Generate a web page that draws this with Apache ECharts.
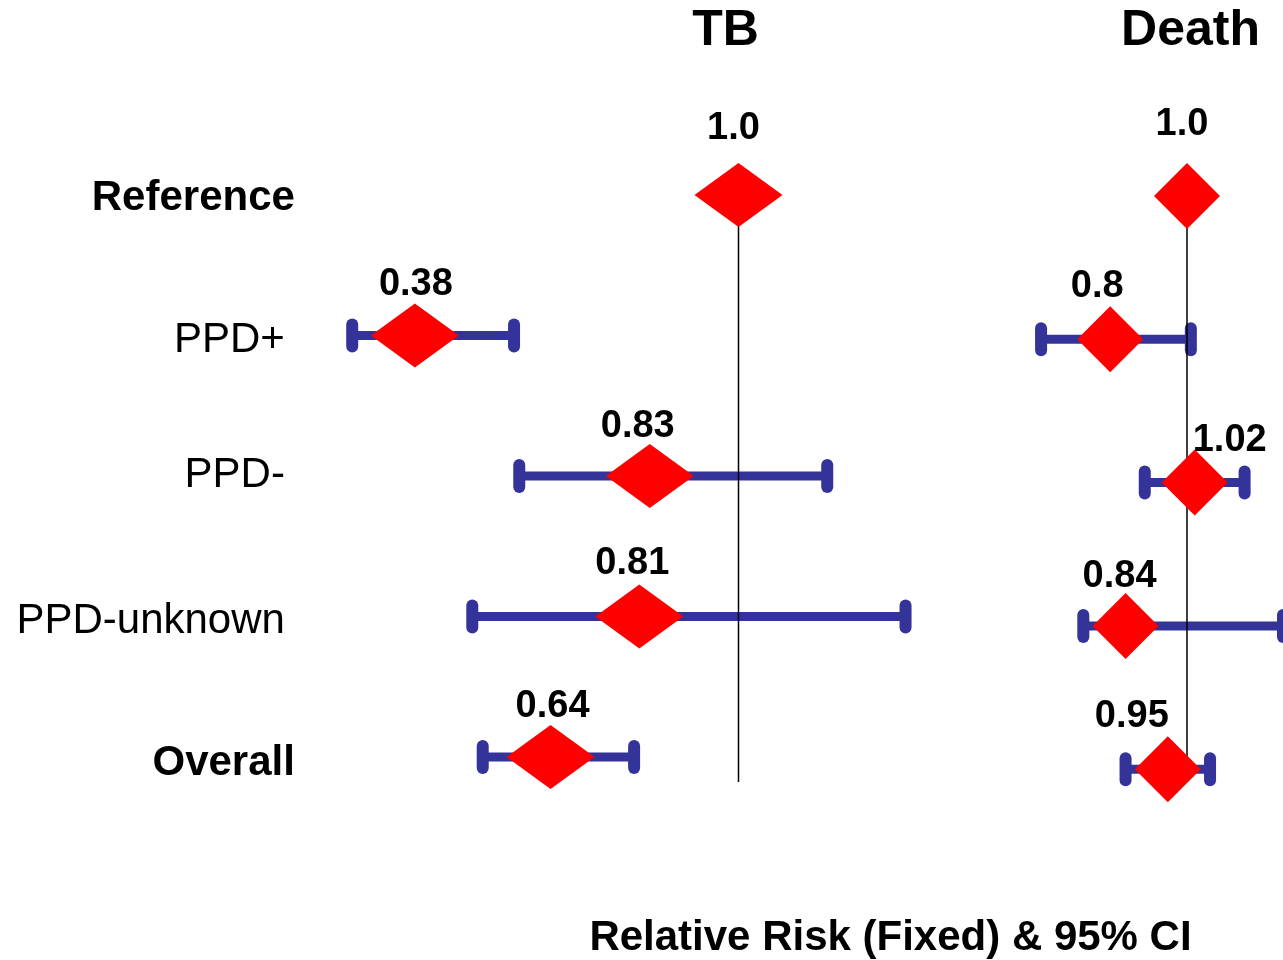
<!DOCTYPE html>
<html>
<head>
<meta charset="utf-8">
<script src="https://cdn.jsdelivr.net/npm/echarts@6/dist/echarts.min.js"></script>
<style>
html,body{margin:0;padding:0;background:#ffffff;}
#chart{width:1283px;height:960px;}
</style>
</head>
<body>
<div id="chart"></div>
<script>
// ---------------- data ----------------
const rows = ['Reference', 'PPD+', 'PPD-', 'PPD-unknown', 'Overall'];
const boldRows = ['Reference', 'Overall'];

const tbRR   = [1.0, 0.38, 0.83, 0.81, 0.64];
const tbLow  = [null, 0.26, 0.58, 0.49, 0.51];
const tbHigh = [null, 0.57, 1.17, 1.32, 0.80];

const deathRR   = [1.0, 0.8, 1.02, 0.84, 0.95];
const deathLow  = [null, 0.62, 0.89, 0.73, 0.84];
const deathHigh = [null, 1.01, 1.15, 1.25, 1.06];

const panelTitles = ['TB', 'Death'];
const xAxisTitle = 'Relative Risk (Fixed) & 95% CI';
const nullValue = 1.0;

// ---------------- layout / style ----------------
const FONT = '"Liberation Sans", Arial, Helvetica, sans-serif';
const RED = '#ff0000';
const BLUE = '#333399';
const rowLabelShift = [3, 5, -1, 5, 6];   // px, + = down

const panels = [
  {
    rr: tbRR, lo: tbLow, hi: tbHigh,
    grid: { left: 320.9, width: 626.4, top: 124.75, height: 702.5 },
    xmin: 0.2, xmax: 1.4,
    diamond: [88, 64],
    lineExtend: 25,
    labelNudge: [[-5, -15], [1, 0], [-12, 2], [-7, -2], [2, 1]],
    titlePos: [725.5, 31]
  },
  {
    rr: deathRR, lo: deathLow, hi: deathHigh,
    grid: { left: 995, width: 288.75, top: 124.35, height: 716.5 },
    xmin: 0.5, xmax: 1.25,
    diamond: [66, 66],
    lineExtend: 0,
    labelNudge: [[-5, -19], [-13, -1], [35, 10], [-6, 3], [-36, -1]],
    titlePos: [1190.5, 31]
  }
];

function fmt(v) {
  return Number.isInteger(v) ? v.toFixed(1) : String(v);
}

// rich styles for row labels
const richRows = {};
rows.forEach(function (r, i) {
  const bold = boldRows.indexOf(r) >= 0;
  const s = rowLabelShift[i];
  richRows['r' + i] = {
    fontFamily: FONT, fontSize: 42, fontWeight: bold ? 'bold' : 'normal',
    color: '#000', lineHeight: 46,
    padding: [s > 0 ? 2 * s : 0, bold ? 0 : 10, s < 0 ? -2 * s : 0, 0]
  };
});

const grids = [], xAxes = [], yAxes = [], series = [], graphics = [];

panels.forEach(function (p, pi) {
  grids.push(Object.assign({ containLabel: false }, p.grid));
  xAxes.push({
    type: 'value', gridIndex: pi, min: p.xmin, max: p.xmax, show: false
  });
  yAxes.push({
    type: 'category', gridIndex: pi, data: rows, inverse: true,
    axisLine: { show: false }, axisTick: { show: false }, splitLine: { show: false },
    axisLabel: pi === 0 ? {
      show: true,
      margin: 26,
      formatter: function (v) {
        return '{r' + rows.indexOf(v) + '|' + v + '}';
      },
      rich: richRows
    } : { show: false }
  });

  // error bars
  const barData = [];
  rows.forEach(function (r, i) {
    if (p.lo[i] != null && p.hi[i] != null) barData.push([p.lo[i], p.hi[i], i]);
  });
  series.push({
    type: 'custom', xAxisIndex: pi, yAxisIndex: pi, z: 2, clip: false,
    data: barData,
    renderItem: function (params, api) {
      const cat = api.value(2);
      const a = api.coord([api.value(0), cat]);
      const b = api.coord([api.value(1), cat]);
      const ch = 11;
      return {
        type: 'group',
        children: [
          { type: 'line', shape: { x1: a[0], y1: a[1], x2: b[0], y2: b[1] },
            style: { stroke: BLUE, lineWidth: 9 } },
          { type: 'line', shape: { x1: a[0], y1: a[1] - ch, x2: a[0], y2: a[1] + ch },
            style: { stroke: BLUE, lineWidth: 12, lineCap: 'round' } },
          { type: 'line', shape: { x1: b[0], y1: b[1] - ch, x2: b[0], y2: b[1] + ch },
            style: { stroke: BLUE, lineWidth: 12, lineCap: 'round' } }
        ]
      };
    }
  });

  // vertical reference line at RR = 1
  series.push({
    type: 'custom', xAxisIndex: pi, yAxisIndex: pi, z: 3, clip: false,
    data: [[nullValue, 0, rows.length - 1]],
    renderItem: function (params, api) {
      const t = api.coord([api.value(0), api.value(1)]);
      const b = api.coord([api.value(0), api.value(2)]);
      return {
        type: 'line',
        shape: { x1: t[0], y1: t[1], x2: b[0], y2: b[1] + p.lineExtend },
        style: { stroke: '#000', lineWidth: 1.5 }
      };
    }
  });

  // diamonds with value labels
  series.push({
    type: 'scatter', xAxisIndex: pi, yAxisIndex: pi, z: 4,
    symbol: 'diamond', symbolSize: p.diamond,
    itemStyle: { color: RED, opacity: 1 },
    label: {
      show: true, position: 'top', distance: 0,
      fontFamily: FONT, fontSize: 38, fontWeight: 'bold', color: '#000', lineHeight: 38,
      formatter: function (prm) { return fmt(prm.value[0]); }
    },
    data: p.rr.map(function (v, i) {
      return { value: [v, i], label: { offset: p.labelNudge[i] } };
    })
  });

  graphics.push({
    type: 'text', x: p.titlePos[0], y: p.titlePos[1],
    style: {
      text: panelTitles[pi], fontFamily: FONT, fontSize: 50, fontWeight: 'bold',
      fill: '#000', align: 'center', verticalAlign: 'middle'
    }
  });
});

graphics.push({
  type: 'text', x: 890.5, y: 938,
  style: {
    text: xAxisTitle, fontFamily: FONT, fontSize: 42, fontWeight: 'bold',
    fill: '#000', align: 'center', verticalAlign: 'middle'
  }
});

const chart = echarts.init(document.getElementById('chart'), null, { renderer: 'canvas' });
chart.setOption({
  animation: false,
  backgroundColor: '#ffffff',
  grid: grids,
  xAxis: xAxes,
  yAxis: yAxes,
  series: series,
  graphic: graphics
});
</script>
</body>
</html>
